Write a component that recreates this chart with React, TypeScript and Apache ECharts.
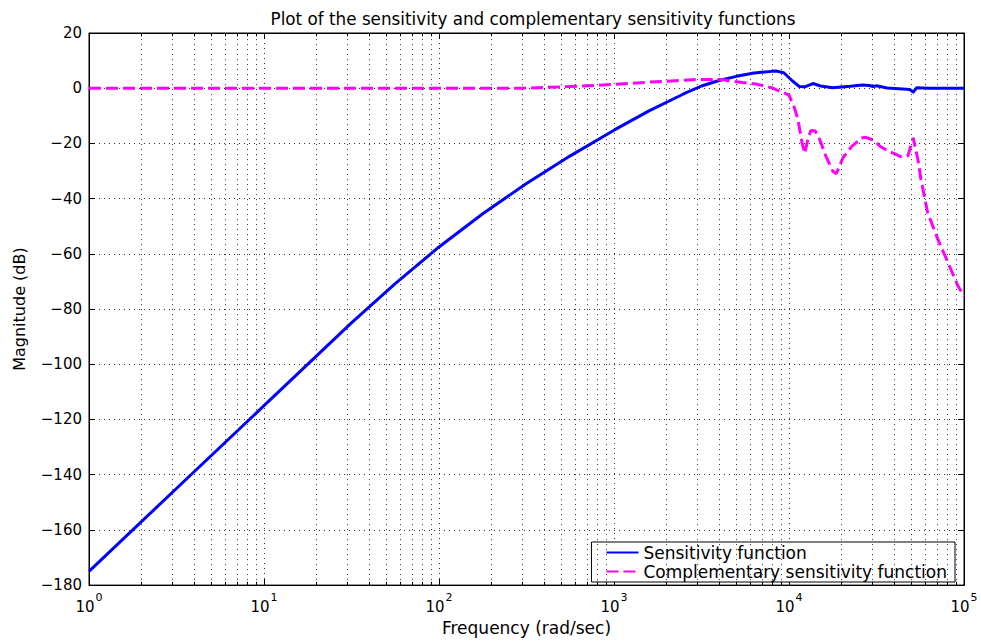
import React, { useEffect, useRef } from "react";
import * as echarts from "echarts";

// Sensitivity function |S(jw)| in dB
const sensFreq = [
  1, 3.16, 10, 31.6, 56.2, 100, 177.8, 316.2, 562.3, 1000, 1585, 2512, 3162, 3981,
  5012, 6310, 7943, 8511, 9333, 10470, 11480, 12300, 13710, 15140, 17780, 22390,
  26300, 28840, 30200, 31620, 36310, 44670, 48980, 51290, 53700, 63100, 100000,
];
const sensDb = [
  -175, -145, -115, -85, -70.8, -57.5, -45.5, -34.5, -24.5, -15.2, -8.2, -2.0, 0.8,
  2.8, 4.3, 5.5, 6.1, 6.2, 5.6, 2.6, 0.6, 0.5, 1.7, 0.8, 0.2, 0.7, 1.2, 1.0, 0.6,
  0.9, 0.1, -0.3, -0.5, -1.4, 0.2, 0, 0,
];

// Complementary sensitivity function |T(jw)| in dB
const compFreq = [
  1, 100, 295, 407, 631, 1000, 1585, 3020, 3981, 4677, 6607, 7943, 10000, 10720,
  11220, 11890, 12300, 12880, 13340, 14130, 14960, 16220, 17780, 18620, 19500,
  20420, 22910, 26000, 27540, 30900, 33110, 36810, 44260, 47860, 50120, 51290,
  54580, 56750, 61940, 70630, 80540, 91830, 100000,
];
const compDb = [
  0, 0, 0, 0.3, 0.7, 1.4, 2.2, 3.2, 3.2, 2.6, 1.4, 0.2, -2.5, -7, -11, -20, -23.6,
  -18, -15.3, -15.5, -18.5, -24.5, -30, -31, -28, -25, -21, -18, -17.8, -19, -21,
  -22.7, -25, -24.5, -20, -18, -26, -33, -45, -54.5, -62.8, -71.3, -75.5,
];

const seriesNames = ["Sensitivity function", "Complementary sensitivity function"];
const titleText = "Plot of the sensitivity and complementary sensitivity functions";
const xName = "Frequency (rad/sec)";
const yName = "Magnitude (dB)";
const xMin = 1;
const xMax = 100000;
const yMin = -180;
const yMax = 20;
const yStep = 20;
const minorMultipliers = [2, 3, 4, 5, 6, 7, 8, 9];
const decades = [1, 10, 100, 1000, 10000];

const FONT = '"DejaVu Sans", "Liberation Sans", Arial, sans-serif';

export default function App() {
  const ref = useRef<HTMLDivElement>(null);

  useEffect(() => {
    if (!ref.current) return;
    const chart = echarts.init(ref.current, null, { renderer: "svg" });

    const minorFreqs: number[] = [];
    decades.forEach((d) => minorMultipliers.forEach((m) => minorFreqs.push(m * d)));

    const dotted = { type: [1, 4] as any, color: "#333", width: 1 };

    const minorLines: any[] = [];
    minorFreqs.forEach((f) => {
      minorLines.push([{ coord: [f, yMin] }, { coord: [f, yMax] }]);
    });
    const minorTicks: any[] = [];
    minorFreqs.forEach((f) => {
      minorTicks.push([{ coord: [f, yMin] }, { coord: [f, yMin + 1.2] }]);
      minorTicks.push([{ coord: [f, yMax] }, { coord: [f, yMax - 1.2] }]);
    });

    const axisLineStyle = { show: true, onZero: false, lineStyle: { color: "#000", width: 1 } };
    const tickStyle = { show: true, inside: true, length: 6, lineStyle: { color: "#000" } };

    const option: any = {
      animation: false,
      backgroundColor: "#fff",
      textStyle: { fontFamily: FONT },
      title: {
        text: titleText,
        left: 528,
        textAlign: "center",
        top: 5,
        textStyle: { fontFamily: FONT, fontSize: 16.8, fontWeight: "normal", color: "#000" },
      },
      grid: {
        left: 89,
        right: 17,
        top: 33,
        bottom: 51,
        show: true,
        borderColor: "#000",
        borderWidth: 1,
        backgroundColor: "#fff",
      },
      legend: {
        data: seriesNames,
        orient: "vertical",
        right: 26,
        top: 542,
        backgroundColor: "#fff",
        borderColor: "#000",
        borderWidth: 1,
        borderRadius: 0,
        padding: [2, 8, 2, 14],
        itemGap: 2,
        itemWidth: 32,
        itemHeight: 12,
        itemStyle: { opacity: 0, borderWidth: 0 },
        textStyle: { fontFamily: FONT, fontSize: 17, color: "#000", lineHeight: 17 },
      },
      xAxis: [
        {
          type: "log",
          logBase: 10,
          min: xMin,
          max: xMax,
          position: "bottom",
          name: xName,
          nameLocation: "middle",
          nameGap: 32,
          nameTextStyle: { fontFamily: FONT, fontSize: 17, color: "#000" },
          axisLine: axisLineStyle,
          axisTick: tickStyle,
          splitLine: { show: true, lineStyle: dotted },
          axisLabel: {
            margin: 7,
            color: "#000",
            formatter: (v: number) => "{b|10}{s|" + Math.round(Math.log10(v)) + "}",
            rich: {
              b: { fontFamily: FONT, fontSize: 15, color: "#000", lineHeight: 22, verticalAlign: "bottom" },
              s: { fontFamily: FONT, fontSize: 11, color: "#000", lineHeight: 22, verticalAlign: "top", padding: [0, 0, 0, 1] },
            },
          },
        },
        {
          type: "log",
          logBase: 10,
          min: xMin,
          max: xMax,
          position: "top",
          axisLine: axisLineStyle,
          axisTick: tickStyle,
          axisLabel: { show: false },
          splitLine: { show: false },
        },
      ],
      yAxis: [
        {
          type: "value",
          min: yMin,
          max: yMax,
          interval: yStep,
          position: "left",
          name: yName,
          nameLocation: "middle",
          nameGap: 62,
          nameRotate: 90,
          nameTextStyle: { fontFamily: FONT, fontSize: 16, color: "#000" },
          axisLine: axisLineStyle,
          axisTick: tickStyle,
          splitLine: { show: true, lineStyle: dotted },
          axisLabel: {
            margin: 7,
            color: "#000",
            fontFamily: FONT,
            fontSize: 15,
            formatter: (v: number) => String(v).replace("-", "\u2212"),
          },
        },
        {
          type: "value",
          min: yMin,
          max: yMax,
          interval: yStep,
          position: "right",
          axisLine: axisLineStyle,
          axisTick: tickStyle,
          axisLabel: { show: false },
          splitLine: { show: false },
        },
      ],
      series: [
        {
          name: "minor-grid",
          type: "line",
          data: [],
          z: 1,
          silent: true,
          markLine: {
            silent: true,
            symbol: ["none", "none"],
            label: { show: false },
            lineStyle: { ...dotted },
            emphasis: { disabled: true },
            data: minorLines,
          },
        },
        {
          name: "minor-ticks",
          type: "line",
          data: [],
          z: 1,
          silent: true,
          markLine: {
            silent: true,
            symbol: ["none", "none"],
            label: { show: false },
            lineStyle: { type: "solid", color: "#000", width: 1 },
            emphasis: { disabled: true },
            data: minorTicks,
          },
        },
        {
          name: seriesNames[0],
          type: "line",
          data: sensFreq.map((f, i) => [f, sensDb[i]]),
          showSymbol: false,
          symbol: "none",
          z: 3,
          lineStyle: { color: "#0000ff", width: 3, join: "round" },
          itemStyle: { color: "#0000ff" },
        },
        {
          name: seriesNames[1],
          type: "line",
          data: compFreq.map((f, i) => [f, compDb[i]]),
          showSymbol: false,
          symbol: "none",
          z: 4,
          lineStyle: { color: "#ff00ff", width: 3, type: [12, 5] },
          itemStyle: { color: "#ff00ff" },
        },
      ],
    };

    chart.setOption(option);
    return () => chart.dispose();
  }, []);

  return (
    <div
      ref={ref}
      style={{ position: "fixed", left: 0, top: 0, width: 981, height: 641, background: "#fff" }}
    />
  );
}
